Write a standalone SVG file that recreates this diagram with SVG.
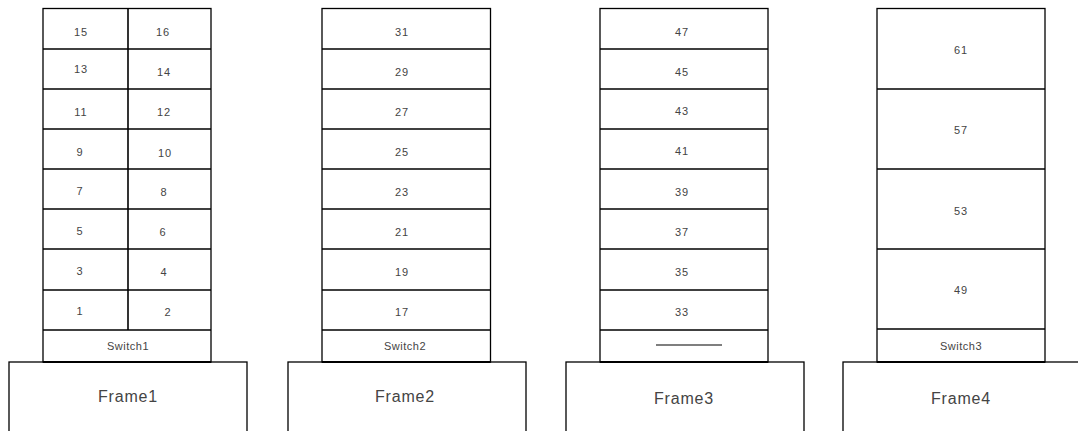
<svg xmlns="http://www.w3.org/2000/svg" width="1078" height="431" viewBox="0 0 1078 431">
<style>
.b{fill:#fff;stroke:#000;stroke-width:1.3}
.l{stroke:#000;stroke-width:1.6}
.t{font-family:"Liberation Sans",Arial,sans-serif;font-size:11px;fill:#444;text-anchor:middle;letter-spacing:1px}
.f{font-family:"Liberation Sans",Arial,sans-serif;font-size:16px;fill:#444;text-anchor:middle;letter-spacing:0.8px}
</style>
<rect width="1078" height="431" fill="#fff"/>
<g id="frame1">
<rect class="b" x="9" y="362" width="238" height="80"/>
<text class="f" x="128" y="402">Frame1</text>
</g>
<g id="frame2">
<rect class="b" x="288" y="362" width="238" height="80"/>
<text class="f" x="405" y="402">Frame2</text>
</g>
<g id="frame3">
<rect class="b" x="566" y="362" width="238" height="80"/>
<text class="f" x="684" y="404">Frame3</text>
</g>
<g id="frame4">
<rect class="b" x="843" y="362" width="240" height="80"/>
<text class="f" x="961" y="404">Frame4</text>
</g>
<g id="rack1">
<rect class="b" x="43" y="8.5" width="168" height="353.5"/>
<line class="l" x1="128" y1="8.5" x2="128" y2="330"/>
<line class="l" x1="43" y1="49" x2="211" y2="49"/>
<line class="l" x1="43" y1="89" x2="211" y2="89"/>
<line class="l" x1="43" y1="129" x2="211" y2="129"/>
<line class="l" x1="43" y1="169" x2="211" y2="169"/>
<line class="l" x1="43" y1="209" x2="211" y2="209"/>
<line class="l" x1="43" y1="249" x2="211" y2="249"/>
<line class="l" x1="43" y1="290" x2="211" y2="290"/>
<line class="l" x1="43" y1="330" x2="211" y2="330"/>
<line x1="43" y1="362" x2="211" y2="362" stroke="#000" stroke-width="2.2"/>
<text class="t" x="81" y="36">15</text><text class="t" x="163" y="36">16</text>
<text class="t" x="81" y="73">13</text><text class="t" x="164" y="76">14</text>
<text class="t" x="81" y="116">11</text><text class="t" x="164" y="116">12</text>
<text class="t" x="80" y="156">9</text><text class="t" x="165" y="157">10</text>
<text class="t" x="80" y="195">7</text><text class="t" x="164" y="196">8</text>
<text class="t" x="80" y="235">5</text><text class="t" x="163" y="236">6</text>
<text class="t" x="80" y="275">3</text><text class="t" x="164" y="276">4</text>
<text class="t" x="80" y="315">1</text><text class="t" x="168" y="316">2</text>
<text class="t" x="128" y="350" style="letter-spacing:0.5px">Switch1</text>
</g>
<g id="rack2">
<rect class="b" x="322" y="8.5" width="168.5" height="353.5"/>
<line class="l" x1="322" y1="49" x2="490.5" y2="49"/>
<line class="l" x1="322" y1="89" x2="490.5" y2="89"/>
<line class="l" x1="322" y1="129" x2="490.5" y2="129"/>
<line class="l" x1="322" y1="169" x2="490.5" y2="169"/>
<line class="l" x1="322" y1="209" x2="490.5" y2="209"/>
<line class="l" x1="322" y1="249" x2="490.5" y2="249"/>
<line class="l" x1="322" y1="290" x2="490.5" y2="290"/>
<line class="l" x1="322" y1="330" x2="490.5" y2="330"/>
<line x1="322" y1="362" x2="490.5" y2="362" stroke="#000" stroke-width="2.2"/>
<text class="t" x="402" y="36">31</text>
<text class="t" x="402" y="76">29</text>
<text class="t" x="402" y="116">27</text>
<text class="t" x="402" y="156">25</text>
<text class="t" x="402" y="196">23</text>
<text class="t" x="402" y="236">21</text>
<text class="t" x="402" y="276">19</text>
<text class="t" x="402" y="316">17</text>
<text class="t" x="405" y="350" style="letter-spacing:0.5px">Switch2</text>
</g>
<g id="rack3">
<rect class="b" x="600" y="8.5" width="168" height="353.5"/>
<line class="l" x1="600" y1="49" x2="768" y2="49"/>
<line class="l" x1="600" y1="89" x2="768" y2="89"/>
<line class="l" x1="600" y1="129" x2="768" y2="129"/>
<line class="l" x1="600" y1="169" x2="768" y2="169"/>
<line class="l" x1="600" y1="209" x2="768" y2="209"/>
<line class="l" x1="600" y1="249" x2="768" y2="249"/>
<line class="l" x1="600" y1="290" x2="768" y2="290"/>
<line class="l" x1="600" y1="330" x2="768" y2="330"/>
<line x1="600" y1="362" x2="768" y2="362" stroke="#000" stroke-width="2.2"/>
<text class="t" x="682" y="36">47</text>
<text class="t" x="682" y="76">45</text>
<text class="t" x="682" y="115">43</text>
<text class="t" x="682" y="155">41</text>
<text class="t" x="682" y="196">39</text>
<text class="t" x="682" y="236">37</text>
<text class="t" x="682" y="276">35</text>
<text class="t" x="682" y="316">33</text>
<line x1="656" y1="345" x2="722" y2="345" stroke="#555" stroke-width="1.3"/>
</g>
<g id="rack4">
<rect class="b" x="877" y="8.5" width="168" height="353.5"/>
<line class="l" x1="877" y1="89" x2="1045" y2="89"/>
<line class="l" x1="877" y1="169" x2="1045" y2="169"/>
<line class="l" x1="877" y1="249" x2="1045" y2="249"/>
<line class="l" x1="877" y1="329" x2="1045" y2="329"/>
<line x1="877" y1="362" x2="1045" y2="362" stroke="#000" stroke-width="2.2"/>
<text class="t" x="961" y="54">61</text>
<text class="t" x="961" y="134">57</text>
<text class="t" x="961" y="215">53</text>
<text class="t" x="961" y="294">49</text>
<text class="t" x="961" y="350" style="letter-spacing:0.5px">Switch3</text>
</g>
</svg>
